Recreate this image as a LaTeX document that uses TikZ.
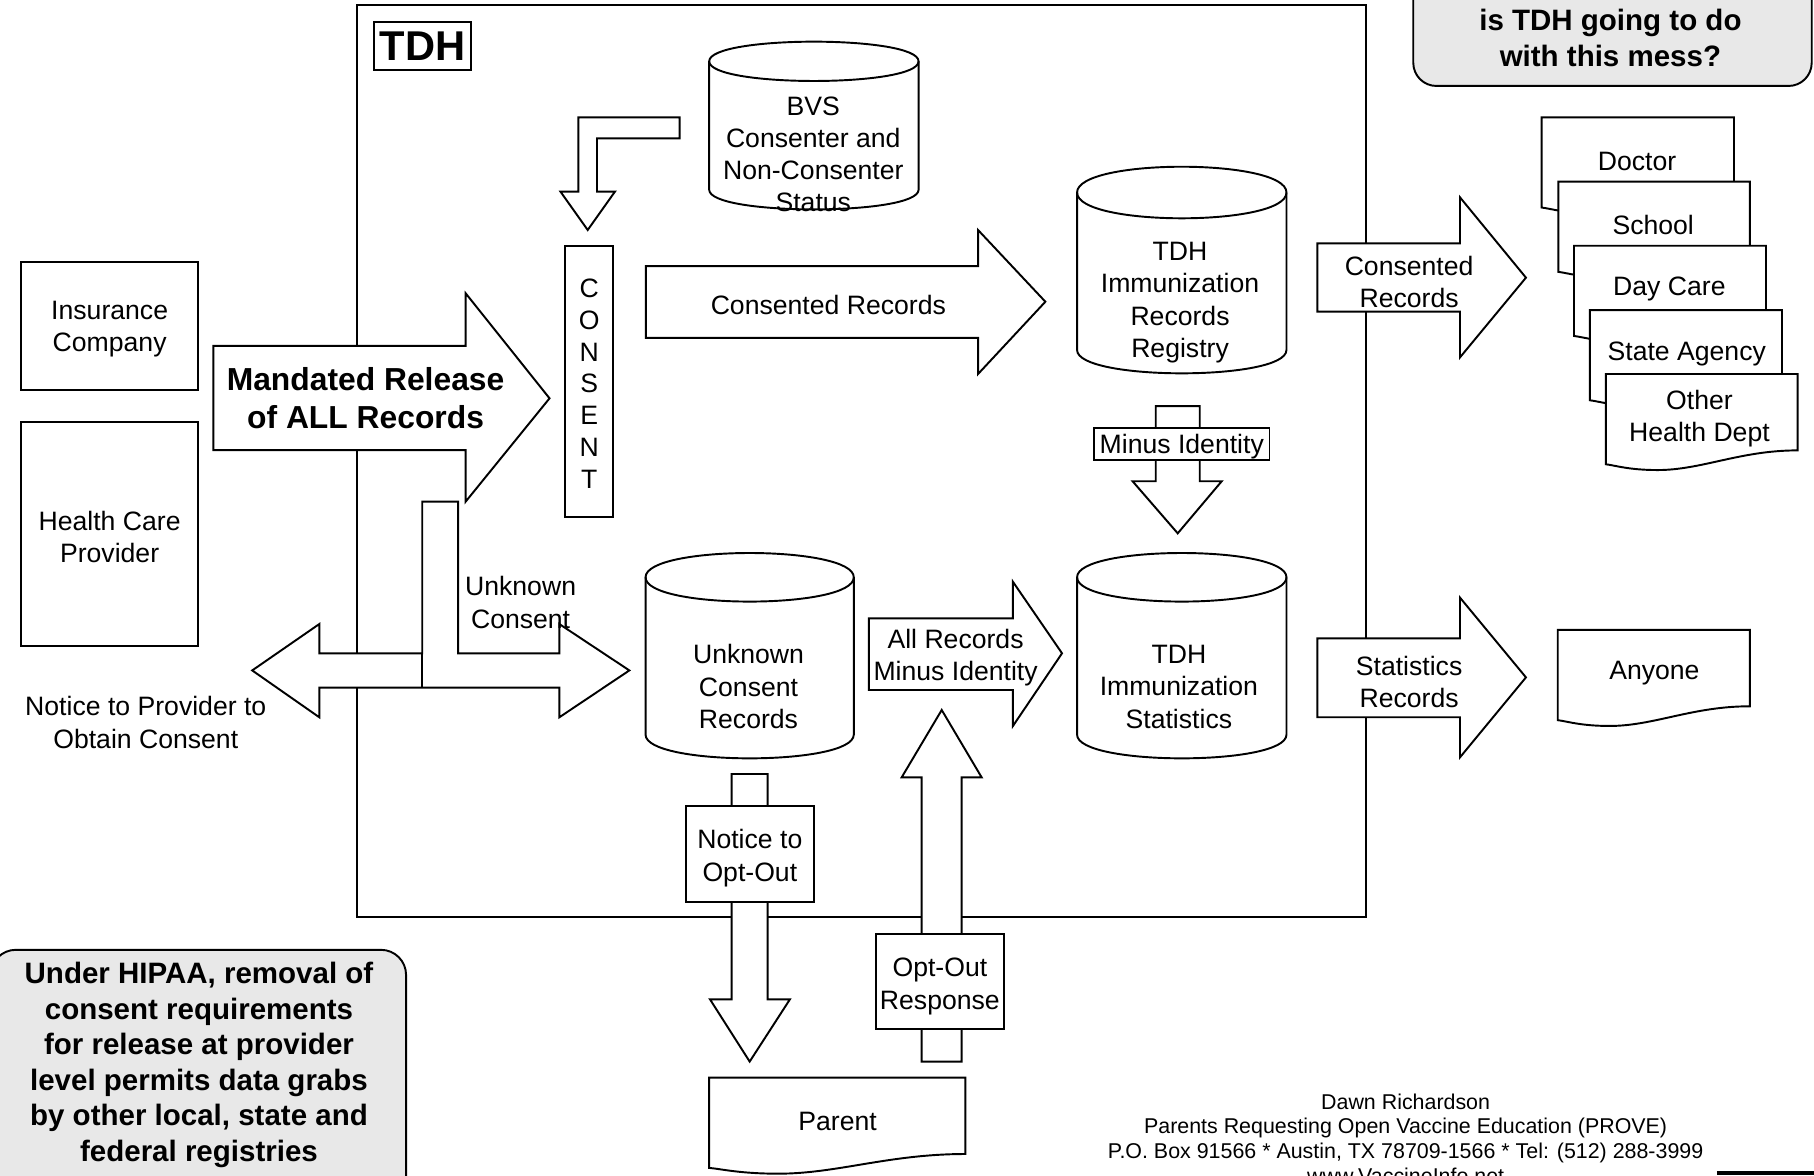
\documentclass[tikz,border=0pt]{standalone}
\usepackage{fontspec}
\setmainfont{Liberation Sans}
\definecolor{callgray}{RGB}{232,232,232}
\newcommand{\mycyl}[6]{%
  \draw[blk] (#1,#3) -- (#1,#5) .. controls (#1,{#5+1.333*#6}) and (#2,{#5+1.333*#6}) .. (#2,#5)
    -- (#2,#3) .. controls (#2,{#3-1.333*#4}) and (#1,{#3-1.333*#4}) .. (#1,#3) -- cycle;
  \draw (#1,#3) .. controls (#1,{#3+1.333*#4}) and (#2,{#3+1.333*#4}) .. (#2,#3);}
\newcommand{\mydoc}[3]{%
  \draw[blk] (#1,#2) -- ({#1+#3},#2) -- ({#1+#3},{#2+66})
    .. controls ({#1+0.7*#3},{#2+66}) and ({#1+0.5*#3},{#2+83}) .. ({#1+0.27*#3},{#2+83})
    .. controls ({#1+0.12*#3},{#2+83}) and ({#1+0.05*#3},{#2+79}) .. (#1,{#2+78}) -- cycle;}
\tikzset{
  blk/.style={draw, fill=white},
  txt/.style={font=\fontsize{13.8}{16.8}\selectfont, align=center, inner sep=0pt},
  sh/.style={yshift=-1.6pt},
  lbl/.style={draw, fill=white, inner sep=0pt, align=center},
  bigbold/.style={font=\fontsize{15.3}{18.4}\selectfont\bfseries, align=center, inner sep=0pt, yshift=-1.2pt},
}
\begin{document}
\begin{tikzpicture}[x=0.6pt,y=-0.6pt,line width=1pt,line join=miter]
\useasboundingbox (0,0) rectangle (1568,1015.7);
\fill[white] (0,0) rectangle (1568,1015.7);

% TDH frame
\draw (308.7,4.5) rectangle (1180.5,793);
\node[lbl, font=\fontsize{21.6}{24}\selectfont\bfseries, minimum width=50.1pt, minimum height=25.1pt] (tdh) at (365.25,39.6) {TDH};

% callouts
\draw[fill=callgray, rounded corners=12pt] (1221.6,-40) rectangle (1566,74.3);
\node[bigbold] (question) at (1392,31) {is TDH going to do\\with this mess?};
\draw[fill=callgray, rounded corners=13pt] (-8,821) rectangle (351,1060);
\node[bigbold] (hipaa) at (172,918.5) {Under HIPAA, removal of\\consent requirements\\for release at provider\\level permits data grabs\\by other local, state and\\federal registries};

% sources
\draw (18.5,226.2) rectangle (171,337);
\node[txt, sh] (ins) at (94.8,281.6) {Insurance\\Company};
\draw (18.5,364.5) rectangle (171,558);
\node[txt, sh] (hcp) at (94.75,461.25) {Health Care\\Provider};

% mandated release arrow
\draw[blk] (184.5,299) -- (402.5,299) -- (402.5,253.5) -- (475,344.3) -- (402.5,433.6) -- (402.5,389) -- (184.5,389) -- cycle;
\node[font=\fontsize{16.5}{19.8}\selectfont\bfseries, align=center, inner sep=0pt] (mand) at (316,344) {Mandated Release\\of ALL Records};

% consent column
\draw[blk] (488.5,212.3) rectangle (530,447);
\node[font=\fontsize{13.8}{16.56}\selectfont, align=center, inner sep=0pt, yshift=-1.2pt] (consent) at (509.25,329.65) {C\\O\\N\\S\\E\\N\\T};

% bent arrow from BVS
\draw[blk] (587.4,101.4) -- (500,101.4) -- (500,165.7) -- (484.5,165.7) -- (508,198.8) -- (531.5,165.7) -- (516,165.7) -- (516,119.6) -- (587.4,119.6) -- cycle;

% BVS cylinder
\mycyl{613}{794}{53}{17}{164}{17}
\node[font=\fontsize{13.8}{16.6}\selectfont, align=center, inner sep=0pt, yshift=-0.6pt] (bvs) at (703,132.5) {BVS\\Consenter and\\Non-Consenter\\Status};

% consented records arrow (middle)
\draw[blk] (558.3,230) -- (845.4,230) -- (845.4,198.8) -- (903.6,260.8) -- (845.4,323.3) -- (845.4,292) -- (558.3,292) -- cycle;
\node[txt, sh] (cr1) at (716,261) {Consented Records};

% registry cylinder
\mycyl{931}{1112}{166.4}{22.3}{302.5}{20.2}
\node[txt, sh] (reg) at (1020,259) {TDH\\Immunization\\Records\\Registry};

% minus identity arrow
\draw[blk] (999,351) -- (1037,351) -- (1037,416) -- (1056,416) -- (1018,461) -- (979,416) -- (999,416) -- cycle;
\draw[blk] (945.6,369.7) rectangle (1097.3,397.6);
\node[txt, sh] (minus) at (1021.5,383) {Minus Identity};

% unknown consent T arrow
\draw[blk] (365,433.6) -- (396,433.6) -- (396,564.7) -- (483.5,564.7) -- (483.5,539.4) -- (544,579.5) -- (483.5,620) -- (483.5,594.4) -- (276,594.4) -- (276,620) -- (218,579.5) -- (276,539.4) -- (276,564.7) -- (365,564.7) -- cycle;
\draw (365,564.7) -- (365,594.4);
\node[txt, sh] (unk) at (450,518) {Unknown\\Consent};
\node[txt, sh] (notprov) at (126,622) {Notice to Provider to\\Obtain Consent};

% unknown consent records and statistics cylinders
\mycyl{558}{738}{499}{21}{635}{20.5}
\node[txt, sh] (ucr) at (647,591) {Unknown\\Consent\\Records};
\mycyl{931}{1112}{499}{21}{635}{20.5}
\node[txt, sh] (stats) at (1019,591) {TDH\\Immunization\\Statistics};

% all records arrow
\draw[blk] (751,534.5) -- (875.5,534.5) -- (875.5,502.8) -- (918,564.7) -- (875.5,627.6) -- (875.5,596.4) -- (751,596.4) -- cycle;
\node[txt, sh] (allrec) at (826,566) {All Records\\Minus Identity};

% notice to opt-out arrow
\draw[blk] (632.4,669) -- (663.5,669) -- (663.5,863.8) -- (682.8,863.8) -- (648,917.6) -- (613.7,863.8) -- (632.4,863.8) -- cycle;
\draw[blk] (592.7,696.4) rectangle (703.6,779.4);
\node[txt, sh] (notopt) at (648.15,739) {Notice to\\Opt-Out};

% opt-out response arrow
\draw[blk] (796.6,917.6) -- (831.2,917.6) -- (831.2,671.9) -- (848.5,671.9) -- (814,613.7) -- (779.4,671.9) -- (796.6,671.9) -- cycle;
\draw[blk] (757,807.4) rectangle (867.8,889.7);
\node[txt, sh] (optresp) at (812.4,850) {Opt-Out\\Response};

% parent
\mydoc{613}{931.5}{221.5}
\node[txt, sh] (parent) at (724,967) {Parent};

% right arrows
\draw[blk] (1138.7,210.3) -- (1262,210.3) -- (1262,170.6) -- (1319,240) -- (1262,308.9) -- (1262,269.4) -- (1138.7,269.4) -- cycle;
\node[txt, sh] (cr2) at (1218,241) {Consented\\Records};
\draw[blk] (1138.7,551.8) -- (1262,551.8) -- (1262,516.6) -- (1319,585.5) -- (1262,654.6) -- (1262,620) -- (1138.7,620) -- cycle;
\node[txt, sh] (sr) at (1218,587) {Statistics\\Records};

% recipients
\mydoc{1332.6}{101.4}{166.2}
\node[txt, sh] (doctor) at (1415,137) {Doctor};
\mydoc{1347}{157}{165.6}
\node[txt, sh] (school) at (1429,192) {School};
\mydoc{1360.5}{212.4}{166}
\node[txt, sh] (daycare) at (1443,247.3) {Day Care};
\mydoc{1374.3}{268}{166}
\node[txt, sh] (state) at (1458,303) {State Agency};
\mydoc{1388}{323.3}{165.8}
\node[txt, sh] (other) at (1469,359) {Other\\Health Dept};
\mydoc{1346.5}{544.5}{166}
\node[txt, sh] (anyone) at (1430,579) {Anyone};

% footer
\node[font=\fontsize{11.1}{12.8}\selectfont, align=center, inner sep=0pt] (foot) at (1215,984) {Dawn Richardson\\Parents Requesting Open Vaccine Education (PROVE)\\P.O. Box 91566 * Austin, TX 78709-1566 * Tel: (512) 288-3999\\www.VaccineInfo.net};
\coordinate (barL) at (1484,1013.8);
\coordinate (barR) at (1580,1013.8);
\draw[line width=1.8pt] (barL) -- (barR);
\end{tikzpicture}
\end{document}
